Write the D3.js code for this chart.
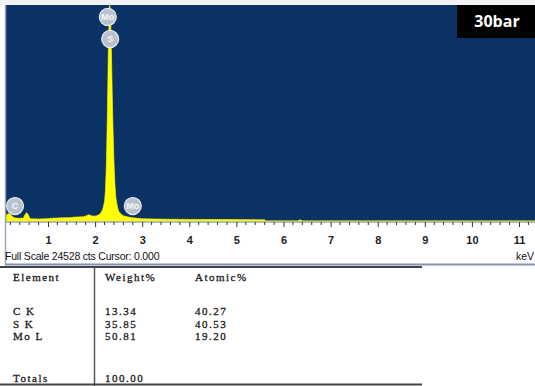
<!DOCTYPE html>
<html>
<head>
<meta charset="utf-8">
<script src="https://cdnjs.cloudflare.com/ajax/libs/d3/7.8.5/d3.min.js"></script>
<style>
  body { margin: 0; background: #ffffff; }
  svg { display: block; }
</style>
</head>
<body>
<svg id="chart"></svg>
<script>
// spectrum data (keV, counts)
var energies = [0.12,0.16,0.20,0.24,0.30,0.40,0.48,0.52,0.55,0.58,0.62,0.80,0.95,1.10,1.30,1.45,1.60,1.75,1.82,1.86,1.90,1.95,2.02,2.08,2.12,2.16,
                2.20,2.22,2.24,2.26,2.28,2.30,2.31,2.32,2.34,2.36,2.38,2.40,2.42,2.44,2.47,2.50,2.55,2.60,2.70,2.80,2.90,3.00,3.30,3.60,4.00,4.50,5.00,5.60,5.62,6.30,6.35,6.40,11.4]
var counts =   [700,850,800,500,350,300,350,800,950,700,250,230,250,320,360,380,450,480,600,700,650,550,580,700,900,1300,
                2200,3500,6500,12000,19000,24000,24528,24200,21000,15500,10500,6800,4200,2700,1700,1100,800,600,450,380,300,260,220,200,180,170,160,150,0,0,150,0,0]

var fullScale = 24528
var tickLabels = [1,2,3,4,5,6,7,8,9,10,11]

// peak markers
var peakNames = ["Mo","S","C","Mo"]
var peakKeV = [2.27, 2.32, 0.30, 2.80]
var peakLevel = [23170, 20670, 1700, 1700]

// quant table
var elements = ["C K","S K","Mo L"]
var weightPct = ["13.34","35.85","50.81"]
var atomicPct = ["40.27","40.53","19.20"]
var totalWeight = "100.00"

var W = 535, H = 386
var plot = {left: 6, right: 535, top: 5, bottom: 221}

var svg = d3.select("#chart").attr("width", W).attr("height", H)

var xScale = d3.scaleLinear().domain([1, 11]).range([48, 519])
var yScale = d3.scaleLinear().domain([0, fullScale]).range([plot.bottom, plot.top])

// top strip + plot background
svg.append("rect").attr("x", 0).attr("y", 0).attr("width", W).attr("height", plot.top)
    .attr("fill", "#f2f2f2")
svg.append("rect").attr("x", plot.left).attr("y", plot.top)
    .attr("width", plot.right - plot.left).attr("height", plot.bottom - plot.top)
    .attr("fill", "#0b3265")
svg.append("line").attr("x1", 5.5).attr("x2", 5.5).attr("y1", plot.top).attr("y2", 265)
    .attr("stroke", "#9aa6b8").attr("stroke-width", 1.5)

svg.append("clipPath").attr("id", "clip").append("rect")
    .attr("x", plot.left).attr("y", plot.top)
    .attr("width", plot.right - plot.left).attr("height", plot.bottom - plot.top + 1)

var spectrum = energies.map(function(e, i){ return [e, counts[i]] })

var area = d3.area()
    .x(function(d){ return xScale(d[0]) })
    .y0(yScale(0))
    .y1(function(d){ return yScale(d[1]) })

svg.append("path")
    .datum(spectrum)
    .attr("clip-path", "url(#clip)")
    .attr("d", area)
    .attr("fill", "#ffff00")
    .attr("stroke", "#ffff00")
    .attr("stroke-width", 0.6)

// x axis ticks
var minor = d3.range(0.2, 11.4, 0.2).filter(function(v){ return Math.abs(v - Math.round(v)) > 0.01 })
var axisG = svg.append("g").attr("transform", "translate(0," + (plot.bottom + 1) + ")")
axisG.append("line").attr("x1", plot.left).attr("x2", W).attr("y1", 0).attr("y2", 0)
    .attr("stroke", "#6d7a8c").attr("stroke-width", 1)
axisG.selectAll(".minor").data(minor).enter().append("line")
    .attr("x1", function(d){ return xScale(d) }).attr("x2", function(d){ return xScale(d) })
    .attr("y1", 0).attr("y2", 3).attr("stroke", "#333").attr("stroke-width", 1)
var xAxis = d3.axisBottom(xScale).tickValues(tickLabels).tickSize(5).tickPadding(9)
    .tickFormat(d3.format("d"))
axisG.call(xAxis)
axisG.select(".domain").remove()
axisG.selectAll(".tick line").attr("stroke", "#333")
axisG.selectAll(".tick text")
    .attr("font-family", "Arial, 'Liberation Sans', sans-serif")
    .attr("font-size", 11).attr("font-weight", "bold").attr("fill", "#222")

svg.append("text").attr("x", 5).attr("y", 260)
    .attr("font-family", "Arial, 'Liberation Sans', sans-serif").attr("font-size", 10.5)
    .attr("fill", "#111").attr("letter-spacing", -0.2)
    .text("Full Scale " + fullScale + " cts Cursor: 0.000")
svg.append("text").attr("x", 534).attr("y", 260).attr("text-anchor", "end")
    .attr("font-family", "Arial, 'Liberation Sans', sans-serif").attr("font-size", 10.5)
    .attr("fill", "#111").text("keV")

// frame lines under the axis
svg.append("line").attr("x1", 5).attr("x2", W).attr("y1", 264.5).attr("y2", 264.5)
    .attr("stroke", "#7f93b3").attr("stroke-width", 2)
svg.append("line").attr("x1", 0).attr("x2", 422).attr("y1", 267).attr("y2", 267)
    .attr("stroke", "#444").attr("stroke-width", 2)

// peak markers
var marks = svg.append("g").selectAll("g").data(peakNames).enter().append("g")
    .attr("transform", function(d, i){
        return "translate(" + xScale(peakKeV[i]) + "," + yScale(peakLevel[i]) + ")" })
marks.append("circle").attr("r", 8.5)
    .attr("fill", "#b9c1cd").attr("stroke", "#e4e8ee").attr("stroke-width", 1.2)
marks.append("text").attr("text-anchor", "middle").attr("dy", "0.35em")
    .attr("font-family", "Arial, 'Liberation Sans', sans-serif").attr("font-size", 9)
    .attr("font-weight", "bold").attr("fill", "#f6f7f9")
    .text(function(d){ return d })

// 30bar tag
svg.append("rect").attr("x", 457).attr("y", plot.top).attr("width", W - 457).attr("height", 33)
    .attr("fill", "#000")
svg.append("text").attr("x", 497).attr("y", 27).attr("text-anchor", "middle")
    .attr("font-family", "'Open Sans', sans-serif").attr("font-size", 16).attr("font-weight", "bold")
    .attr("fill", "#fff").text("30bar")

// table
var tab = svg.append("g").attr("font-family", "'Liberation Serif', 'Times New Roman', serif")
    .attr("font-size", 11).attr("fill", "#1a1a1a").attr("letter-spacing", 1.5)
    .attr("stroke", "#1a1a1a").attr("stroke-width", 0.3)
tab.append("line").attr("x1", 94.5).attr("x2", 94.5).attr("y1", 267).attr("y2", 386)
    .attr("stroke", "#555").attr("stroke-width", 1.5)
tab.append("line").attr("x1", 0).attr("x2", 422).attr("y1", 384.5).attr("y2", 384.5)
    .attr("stroke", "#444").attr("stroke-width", 2)
var cols = [13, 105, 195]
var head = ["Element", "Weight%", "Atomic%"]
head.forEach(function(h, i){
    tab.append("text").attr("x", cols[i]).attr("y", 281).text(h)
})
var rowY = d3.scalePoint().domain(elements).range([315, 340])
elements.forEach(function(el, i){
    tab.append("text").attr("x", cols[0]).attr("y", rowY(el)).text(el)
    tab.append("text").attr("x", cols[1]).attr("y", rowY(el)).text(weightPct[i])
    tab.append("text").attr("x", cols[2]).attr("y", rowY(el)).text(atomicPct[i])
})
tab.append("text").attr("x", cols[0]).attr("y", 382).text("Totals")
tab.append("text").attr("x", cols[1]).attr("y", 382).text(totalWeight)
</script>
</body>
</html>
